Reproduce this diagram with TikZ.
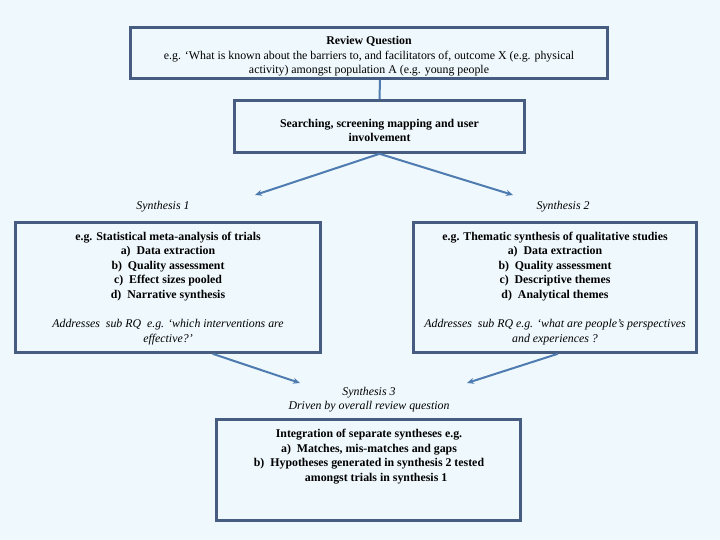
\documentclass[tikz,border=0pt]{standalone}
\usepackage{fontspec}
\setmainfont{Liberation Serif}[BoldFont={Liberation Serif Bold},ItalicFont={Liberation Serif Italic},BoldItalicFont={Liberation Serif Bold Italic}]
\usetikzlibrary{arrows.meta,calc}
\definecolor{bg}{RGB}{239,248,252}
\definecolor{boxc}{RGB}{70,92,128}
\definecolor{arr}{RGB}{79,124,176}
\begin{document}
\begin{tikzpicture}[x=1bp,y=-1bp,
  box/.style={draw=boxc,line width=2.6bp,inner sep=0pt},
  txt/.style={align=center,inner sep=0pt,font=\fontsize{11.9}{14.5}\selectfont},
  btxt/.style={txt,font=\fontsize{11.9}{14.5}\selectfont\bfseries},
  itxt/.style={txt,font=\fontsize{11.9}{14.5}\selectfont\itshape},
  conn/.style={draw=arr,line width=2bp,-{Stealth[length=7bp,width=6bp]}}]
\fill[bg] (0,0) rectangle (720,540);
\useasboundingbox (0,0) rectangle (720,540);
% boxes
\node[box,minimum width=477bp,minimum height=51bp] (b1) at (369,53) {};
\node[box,minimum width=290bp,minimum height=52bp] (b2) at (379.5,126.5) {};
\node[box,minimum width=305bp,minimum height=130bp] (b3) at (168,287.5) {};
\node[box,minimum width=283bp,minimum height=130bp] (b4) at (555,287.5) {};
\node[box,minimum width=304bp,minimum height=101bp] (b5) at (368.5,470) {};
% texts
\node[txt] (t1) at (369,56.5) {\textbf{Review Question}\\e.g. ‘What is known about the barriers to, and facilitators of, outcome X (e.g. physical\\activity) amongst population A (e.g. young people};
\node[btxt] (t2) at (379.5,130.5) {Searching, screening mapping and user\\involvement};
\node[itxt] (s1) at (163,207) {Synthesis 1};
\node[itxt] (s2) at (563,207) {Synthesis 2};
\node[btxt] (t3) at (168,266.5) {e.g. Statistical meta-analysis of trials\\a)\ \ Data extraction\\b)\ \ Quality assessment\\c)\ \ Effect sizes pooled\\d)\ \ Narrative synthesis};
\node[itxt] (t3i) at (168,332) {Addresses\ \ sub RQ\ \ e.g. ‘which interventions are\\effective?’};
\node[btxt] (t4) at (555,266.5) {e.g. Thematic synthesis of qualitative studies\\a)\ \ Data extraction\\b)\ \ Quality assessment\\c)\ \ Descriptive themes\\d)\ \ Analytical themes};
\node[itxt] (t4i) at (555,332) {Addresses\ \ sub RQ e.g. ‘what are people’s perspectives\\and experiences ?};
\node[itxt] (s3) at (369,399.5) {Synthesis 3\\Driven by overall review question};
\node[btxt] (t5) at (369,456.5) {Integration of separate syntheses e.g.\\a)\ \ Matches, mis-matches and gaps\\b)\ \ Hypotheses generated in synthesis 2 tested\\\hspace*{1.2em}amongst trials in synthesis 1};
% connectors
\coordinate (e1) at (255,195);
\coordinate (e2) at (513,195);
\coordinate (e3) at (300,383);
\coordinate (e4) at (467,383);
\draw[draw=arr,line width=2bp] ($(b1.south)+(11,0)$) -- (b2.north);
\draw[conn] (b2.south) -- (e1);
\draw[conn] (b2.south) -- (e2);
\draw[conn] ($(b3.south west)!0.645!(b3.south east)$) -- (e3);
\draw[conn] ($(b4.south west)!0.51!(b4.south east)$) -- (e4);
\end{tikzpicture}
\end{document}
